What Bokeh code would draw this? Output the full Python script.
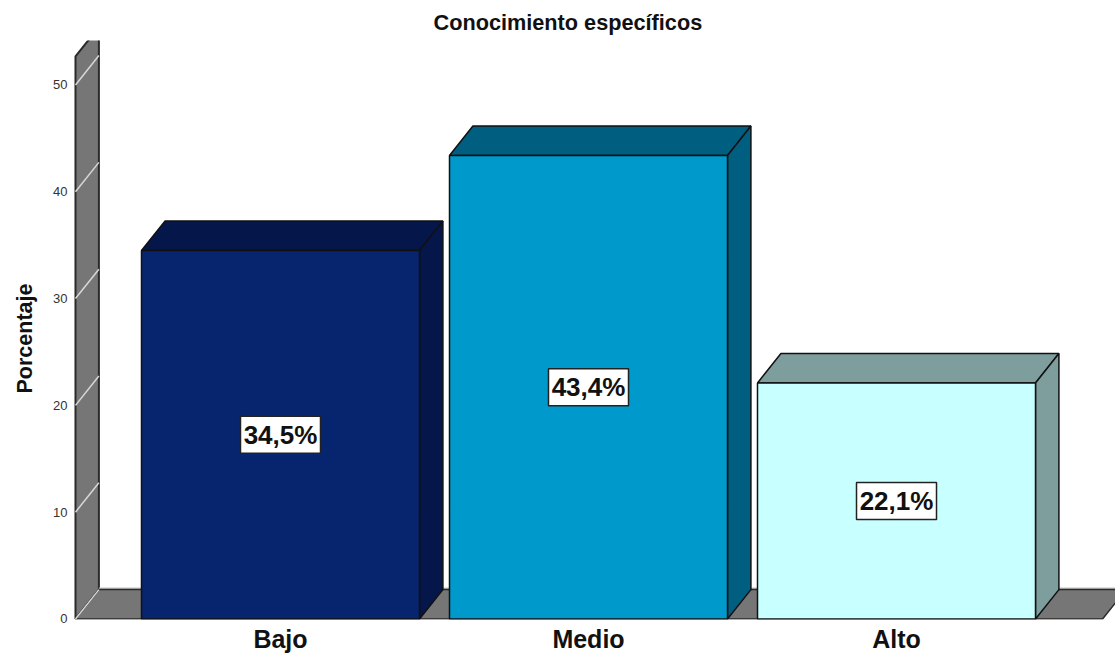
from bokeh.embed import file_html
from bokeh.resources import INLINE
from bokeh.plotting import figure
from bokeh.models import FixedTicker, Range1d, Title
from bokeh.core.properties import value

# Survey results
categories = ["Bajo", "Medio", "Alto"]
percentages = [34.5, 43.4, 22.1]
label_texts = ["34,5%", "43,4%", "22,1%"]
y_ticks = [0, 10, 20, 30, 40, 50]

front_colors = ["#07246E", "#0099CC", "#C8FFFF"]
shade_colors = ["#05174A", "#005F80", "#7E9E9E"]

# Extruded chart geometry, in axis units
BAR_HALF = 0.4513
DEPTH_X = 0.0760
DEPTH_Y = 2.75
WALL_X = -0.6656
FLOOR_END = 2.669
AXIS_TOP = 52.67
OUTLINE = "#111111"
WALL = "#767676"
FONT = "Liberation Sans"

p = figure(
    width=1115, height=655, output_backend="svg", toolbar_location=None,
    x_range=Range1d(-0.6753, 2.711), y_range=Range1d(-0.05, 54.16),
    min_border_left=72, min_border_right=0, min_border_top=40, min_border_bottom=35,
    background_fill_color="white", border_fill_color="white", outline_line_color=None,
)
p.grid.visible = False

p.title.text = "Conocimiento específicos"
p.title.text_font = FONT
p.title.text_font_size = "21.7px"
p.title.text_font_style = "bold"
p.title.text_color = "#111111"
p.title.align = "left"
p.title.offset = 361
p.title.standoff = 11

# Side wall and floor of the chart box
p.patch([WALL_X, WALL_X + DEPTH_X, WALL_X + DEPTH_X, WALL_X],
        [0, DEPTH_Y, AXIS_TOP + DEPTH_Y, AXIS_TOP],
        fill_color=WALL, line_color="#2A2A2A", line_width=2)
p.line([WALL_X + DEPTH_X, FLOOR_END + DEPTH_X + 0.05],
       [DEPTH_Y + 0.1, DEPTH_Y + 0.1], line_color="#C4C4C4", line_width=2)
p.patch([WALL_X, WALL_X + DEPTH_X, FLOOR_END + DEPTH_X, FLOOR_END],
        [0, DEPTH_Y, DEPTH_Y, 0],
        fill_color=WALL, line_color="#2A2A2A", line_width=1.5)
p.segment([WALL_X] * len(y_ticks), y_ticks,
          [WALL_X + DEPTH_X] * len(y_ticks), [t + DEPTH_Y for t in y_ticks],
          line_color="#D8D8D8", line_width=1.5)

# Extruded bars: top face, side face, then front
for i, v in enumerate(percentages):
    left, right = i - BAR_HALF, i + BAR_HALF
    p.patch([left, left + DEPTH_X, right + DEPTH_X, right],
            [v, v + DEPTH_Y, v + DEPTH_Y, v],
            fill_color=shade_colors[i], line_color=OUTLINE, line_width=1.5)
    p.patch([right, right + DEPTH_X, right + DEPTH_X, right],
            [0, DEPTH_Y, v + DEPTH_Y, v],
            fill_color=shade_colors[i], line_color=OUTLINE, line_width=1.5)
    p.quad(left=left, right=right, bottom=0, top=v,
           fill_color=front_colors[i], line_color=OUTLINE, line_width=1.5)

# Percentage labels in white boxes at mid height
xs = list(range(len(categories)))
mids = [v / 2 for v in percentages]
p.rect(xs, mids, width=80, height=37, width_units="screen", height_units="screen",
       fill_color="white", line_color="#222222", line_width=1.5)
p.text(xs, mids, text=label_texts, text_align="center", text_baseline="middle",
       text_font=value(FONT), text_font_size="26px", text_font_style="bold",
       text_color="#111111")

# Axes
p.yaxis.ticker = FixedTicker(ticks=y_ticks)
p.yaxis.axis_line_color = None
p.yaxis.major_tick_line_color = None
p.yaxis.minor_tick_line_color = None
p.yaxis.major_tick_out = 0
p.yaxis.major_tick_in = 0
p.yaxis.minor_tick_out = 0
p.yaxis.major_label_standoff = 5
p.yaxis.major_label_text_font = FONT
p.yaxis.major_label_text_font_size = "13px"
p.yaxis.major_label_text_color = "#333333"

# Vertical axis title, placed from the bottom of the frame
p.add_layout(Title(
    text="Porcentaje", align="left", offset=226, standoff=24, vertical_align="top",
    text_font=FONT, text_font_size="21.5px", text_font_style="bold",
    text_color="#111111",
), "left")

p.xaxis.ticker = FixedTicker(ticks=xs)
p.xaxis.major_label_overrides = dict(zip(xs, categories))
p.xaxis.axis_line_color = None
p.xaxis.major_tick_line_color = None
p.xaxis.minor_tick_line_color = None
p.xaxis.major_tick_out = 0
p.xaxis.major_tick_in = 0
p.xaxis.minor_tick_out = 0
p.xaxis.major_label_standoff = 5
p.xaxis.major_label_text_font = FONT
p.xaxis.major_label_text_font_size = "25px"
p.xaxis.major_label_text_font_style = "bold"
p.xaxis.major_label_text_color = "#111111"

open("out.html", "w").write(file_html(p, INLINE))
